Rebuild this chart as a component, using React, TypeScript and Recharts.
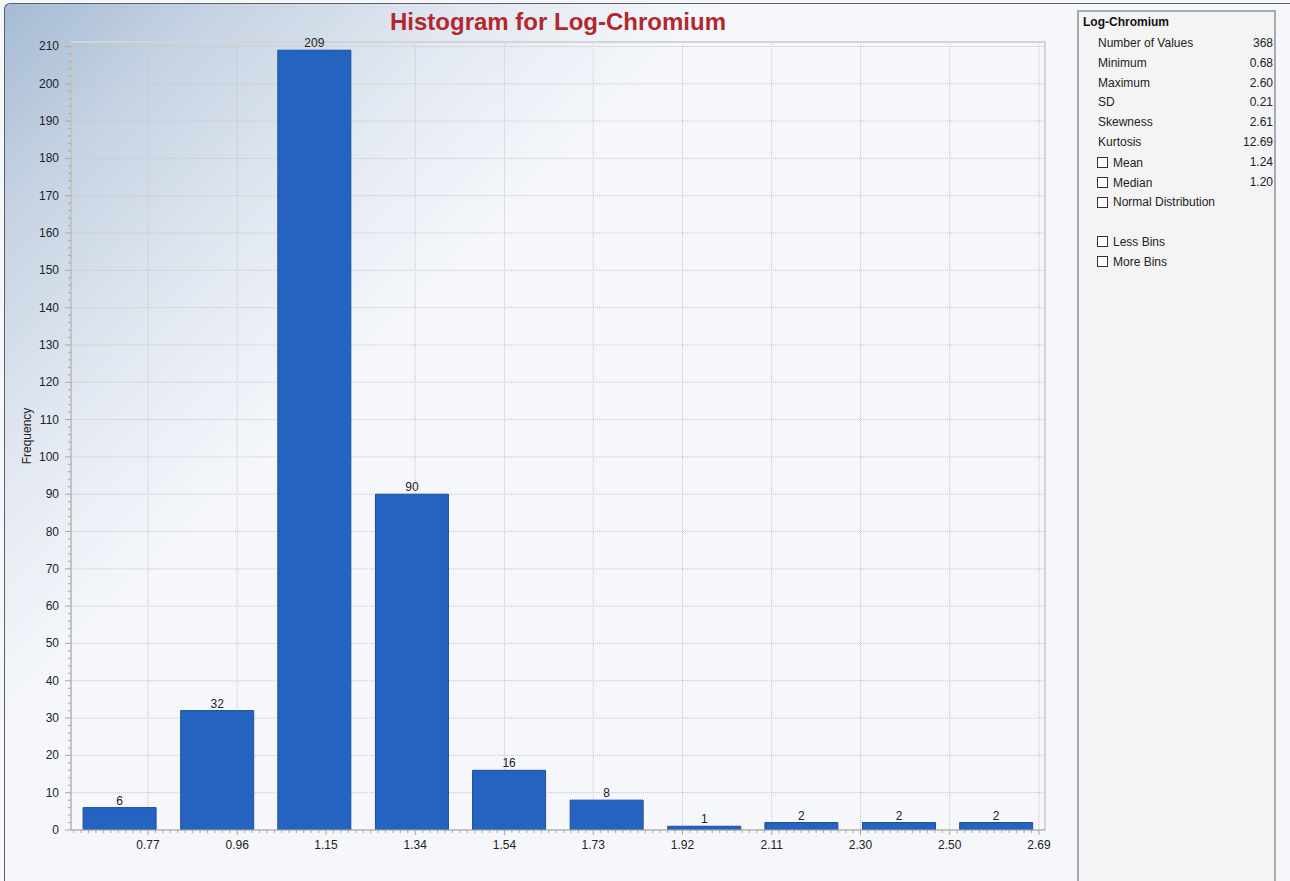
import React from 'react';
import { ComposedChart, Bar, XAxis, YAxis, LabelList, ReferenceArea, ReferenceLine, CartesianGrid } from 'recharts';

const binCenters = [0.709, 0.919, 1.128, 1.338, 1.547, 1.757, 1.967, 2.176, 2.386, 2.595];
const frequencies = [6, 32, 209, 90, 16, 8, 1, 2, 2, 2];
const xTickValues = [0.770, 0.962, 1.153, 1.345, 1.537, 1.728, 1.920, 2.112, 2.303, 2.495, 2.687];
const xTickLabels = ['0.77', '0.96', '1.15', '1.34', '1.54', '1.73', '1.92', '2.11', '2.30', '2.50', '2.69'];
const yTickValues = [0, 10, 20, 30, 40, 50, 60, 70, 80, 90, 100, 110, 120, 130, 140, 150, 160, 170, 180, 190, 200, 210];
const xDomain: [number, number] = [0.6043, 2.7];
const yDomain: [number, number] = [0, 211.2];

const statNames = ['Number of Values', 'Minimum', 'Maximum', 'SD', 'Skewness', 'Kurtosis'];
const statValues = ['368', '0.68', '2.60', '0.21', '2.61', '12.69'];
const checkNames = ['Mean', 'Median', 'Normal Distribution'];
const checkValues = ['1.24', '1.20', ''];
const binOptions = ['Less Bins', 'More Bins'];

const data = binCenters.map((center, i) => ({ center, freq: frequencies[i] }));

// minor tick helpers (axis decoration only)
const xMinor: number[] = [];
{
  const n = xTickValues.length;
  const firstStep = (xTickValues[1] - xTickValues[0]) / 12;
  for (let k = 12; k >= 1; k--) {
    const v = xTickValues[0] - k * firstStep;
    if (v >= xDomain[0]) xMinor.push(v);
  }
  for (let i = 0; i < n - 1; i++) {
    const s = (xTickValues[i + 1] - xTickValues[i]) / 12;
    for (let j = 0; j < 12; j++) xMinor.push(j === 0 ? xTickValues[i] : xTickValues[i] + j * s);
  }
  xMinor.push(xTickValues[n - 1]);
  const lastStep = (xTickValues[n - 1] - xTickValues[n - 2]) / 12;
  for (let k = 1; k <= 3; k++) {
    const v = xTickValues[n - 1] + k * lastStep;
    if (v <= xDomain[1]) xMinor.push(v);
  }
}
const yMinor: number[] = [];
for (let v = 0; v <= 210; v += 2) yMinor.push(v);

const FONT = '"Liberation Sans", Arial, sans-serif';

const XTick = (props: any) => {
  const { x, y, payload } = props;
  const v = payload.value as number;
  const idx = xTickValues.findIndex((t) => Math.abs(t - v) < 1e-4);
  const major = idx >= 0;
  return (
    <g>
      <line x1={x} x2={x} y1={y} y2={y + (major ? 5 : 3)} stroke="#a8a8a8" strokeWidth={1} />
      {major && (
        <text x={x} y={y + 19} textAnchor="middle" fontSize={12} fontFamily={FONT} fill="#222">
          {xTickLabels[idx]}
        </text>
      )}
    </g>
  );
};

const YTick = (props: any) => {
  const { x, y, payload } = props;
  const v = payload.value as number;
  const major = v % 10 === 0;
  return (
    <g>
      <line x1={x - (major ? 6 : 3)} x2={x} y1={y} y2={y} stroke="#a8a8a8" strokeWidth={1} />
      {major && (
        <text x={x - 12} y={y + 4} textAnchor="end" fontSize={12} fontFamily={FONT} fill="#222">
          {v}
        </text>
      )}
    </g>
  );
};

const CheckBox = () => (
  <span
    style={{
      display: 'inline-block',
      width: 11,
      height: 11,
      border: '1px solid #333',
      background: '#fff',
      boxSizing: 'border-box',
      marginRight: 5,
      verticalAlign: 'middle',
    }}
  />
);

const applyScale = (sc: any, v: number, fallback: () => number) => {
  if (typeof sc === 'function') return sc(v);
  if (sc && typeof sc.map === 'function') return sc.map(v);
  return fallback();
};

const vGen = (args: any) => {
  const sc = args?.xAxis?.scale;
  const off = args?.offset ?? { left: 71, width: 974 };
  return xTickValues.map((v) =>
    applyScale(sc, v, () => off.left + ((v - xDomain[0]) / (xDomain[1] - xDomain[0])) * off.width)
  );
};
const hGen = (args: any) => {
  const sc = args?.yAxis?.scale;
  const off = args?.offset ?? { top: 42, height: 788 };
  return yTickValues.slice(1).map((v) =>
    applyScale(sc, v, () => off.top + off.height - ((v - yDomain[0]) / (yDomain[1] - yDomain[0])) * off.height)
  );
};

export default function App() {
  const rowTop = (i: number) => 36 + i * 19.8;
  return (
    <div style={{ position: 'absolute', left: 0, top: 0, width: 1290, height: 881, overflow: 'hidden', background: '#f5f7fb', fontFamily: FONT }}>
      <div
        style={{
          position: 'absolute',
          left: 4,
          top: 3,
          width: 1290,
          height: 890,
          borderLeft: '1px solid #5c6066',
          borderTop: '1px solid #5c6066',
          borderTopLeftRadius: 6,
          background: 'linear-gradient(135deg, #a6bbd4 0%, #c6d3e3 10%, #e3e9f2 22%, #f5f7fb 33%, #f5f7fb 100%)',
        }}
      />
      <div
        style={{
          position: 'absolute',
          left: 0,
          top: 8,
          width: 1116,
          textAlign: 'center',
          fontSize: 24,
          fontWeight: 'bold',
          color: '#b3282d',
        }}
      >
        Histogram for Log-Chromium
      </div>
      <div style={{ position: 'absolute', left: 0, top: 0 }}>
        <ComposedChart width={1070} height={881} data={data} margin={{ top: 42, right: 25, bottom: 21, left: 11 }}>
          <CartesianGrid
            stroke="#c6c6c6"
            strokeDasharray="1 1"
            verticalCoordinatesGenerator={vGen}
            horizontalCoordinatesGenerator={hGen}
          />
          <XAxis
            dataKey="center"
            type="number"
            domain={xDomain}
            allowDataOverflow
            ticks={xMinor}
            interval={0}
            tick={<XTick />}
            tickLine={false}
            tickSize={0}
            tickMargin={0}
            height={30}
            axisLine={false}
          />
          <YAxis
            type="number"
            domain={yDomain}
            allowDataOverflow
            ticks={yMinor}
            interval={0}
            tick={<YTick />}
            tickLine={false}
            tickSize={0}
            tickMargin={0}
            width={60}
            axisLine={false}
            label={{ value: 'Frequency', angle: -90, position: 'insideLeft', offset: 16, style: { fontSize: 12, fontFamily: FONT, fill: '#222', textAnchor: 'middle' } }}
          />
          <ReferenceArea
            x1={xDomain[0]}
            x2={xDomain[1]}
            y1={yDomain[0]}
            y2={yDomain[1]}
            fill="none"
            stroke="#d4d4d4"
            strokeWidth={2}
            ifOverflow="visible"
          />
          <ReferenceLine x={xDomain[0]} stroke="#b4b4b4" ifOverflow="visible" />
          <ReferenceLine y={0} stroke="#b4b4b4" ifOverflow="visible" />
          <Bar
            dataKey="freq"
            barSize={73}
            fill="#2563c0"
            stroke="#1c4f9c"
            strokeWidth={1}
            isAnimationActive={false}
          >
            <LabelList dataKey="freq" position="top" offset={3} style={{ fontSize: 12, fontFamily: FONT, fill: '#222' }} />
          </Bar>
        </ComposedChart>
      </div>
      <div
        style={{
          position: 'absolute',
          left: 1077,
          top: 10,
          width: 199,
          height: 880,
          background: '#f4f4f4',
          border: '2px solid #a4abb3',
          boxSizing: 'border-box',
        }}
      />
      <div style={{ position: 'absolute', left: 1083, top: 15, fontSize: 12, fontWeight: 'bold', color: '#111' }}>Log-Chromium</div>
      {statNames.map((n, i) => (
        <React.Fragment key={n}>
          <div style={{ position: 'absolute', left: 1098, top: rowTop(i), fontSize: 12, color: '#222' }}>{n}</div>
          <div style={{ position: 'absolute', left: 1200, width: 73, textAlign: 'right', top: rowTop(i), fontSize: 12, color: '#222' }}>
            {statValues[i]}
          </div>
        </React.Fragment>
      ))}
      {checkNames.map((n, j) => {
        const i = statNames.length + j;
        return (
          <React.Fragment key={n}>
            <div style={{ position: 'absolute', left: 1097, top: rowTop(i), fontSize: 12, color: '#222', whiteSpace: 'nowrap' }}>
              <CheckBox />
              <span style={{ verticalAlign: 'middle' }}>{n}</span>
            </div>
            <div style={{ position: 'absolute', left: 1200, width: 73, textAlign: 'right', top: rowTop(i), fontSize: 12, color: '#222' }}>
              {checkValues[j]}
            </div>
          </React.Fragment>
        );
      })}
      {binOptions.map((n, j) => {
        const i = statNames.length + checkNames.length + 1 + j;
        return (
          <div key={n} style={{ position: 'absolute', left: 1097, top: rowTop(i), fontSize: 12, color: '#222', whiteSpace: 'nowrap' }}>
            <CheckBox />
            <span style={{ verticalAlign: 'middle' }}>{n}</span>
          </div>
        );
      })}
    </div>
  );
}
